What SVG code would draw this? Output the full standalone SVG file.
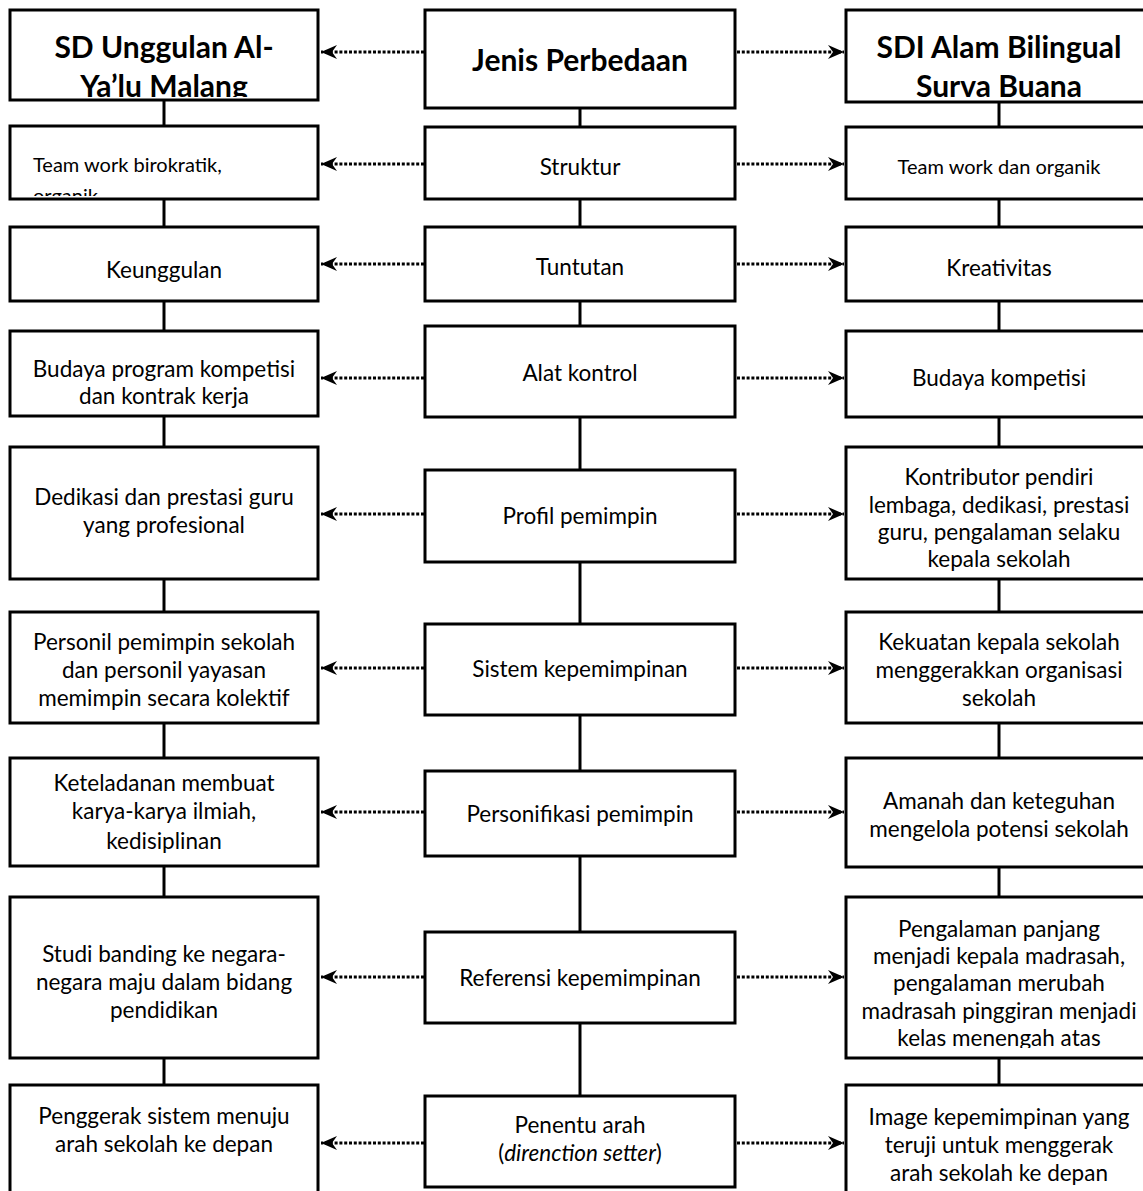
<svg xmlns="http://www.w3.org/2000/svg" width="1143" height="1191" viewBox="0 0 1143 1191">
<style>
.box{fill:#fff;stroke:#000;stroke-width:3}
.t{font-family:Lato,"Open Sans",sans-serif;font-size:22.5px;fill:#000;text-anchor:middle}
.s{font-size:20px}
.h{font-family:Lato,"Open Sans",sans-serif;font-size:30px;font-weight:bold;fill:#000;text-anchor:middle}
.v{stroke:#000;stroke-width:3;fill:none}
.d{stroke:#000;stroke-width:3;stroke-dasharray:3 1.8;fill:none}
</style>
<defs>
<marker id="ah" viewBox="0 0 16 14" refX="16" refY="7" markerWidth="16" markerHeight="14" markerUnits="userSpaceOnUse" orient="auto">
<path d="M0,0 L16,7 L0,14 L5,7 Z" fill="#000"/>
</marker>
<clipPath id="c0l"><rect x="10" y="10" width="308" height="87"/></clipPath>
<clipPath id="c0r"><rect x="846" y="10" width="310" height="89"/></clipPath>
<clipPath id="c1l"><rect x="10" y="126" width="308" height="70"/></clipPath>
<clipPath id="c4r"><rect x="846" y="447" width="310" height="124"/></clipPath>
<clipPath id="c7r"><rect x="846" y="897" width="310" height="151"/></clipPath>
</defs>

<g id="connectors">
<line class="v" x1="164" y1="100" x2="164" y2="126"/>
<line class="v" x1="164" y1="199" x2="164" y2="227"/>
<line class="v" x1="164" y1="301" x2="164" y2="331"/>
<line class="v" x1="164" y1="416" x2="164" y2="447"/>
<line class="v" x1="164" y1="579" x2="164" y2="612"/>
<line class="v" x1="164" y1="723" x2="164" y2="758"/>
<line class="v" x1="164" y1="866" x2="164" y2="897"/>
<line class="v" x1="164" y1="1058" x2="164" y2="1085"/>
<line class="v" x1="580" y1="108" x2="580" y2="127"/>
<line class="v" x1="580" y1="199" x2="580" y2="227"/>
<line class="v" x1="580" y1="301" x2="580" y2="326"/>
<line class="v" x1="580" y1="417" x2="580" y2="470"/>
<line class="v" x1="580" y1="562" x2="580" y2="624"/>
<line class="v" x1="580" y1="715" x2="580" y2="771"/>
<line class="v" x1="580" y1="856" x2="580" y2="932"/>
<line class="v" x1="580" y1="1023" x2="580" y2="1096"/>
<line class="v" x1="999" y1="102" x2="999" y2="127"/>
<line class="v" x1="999" y1="199" x2="999" y2="227"/>
<line class="v" x1="999" y1="301" x2="999" y2="331"/>
<line class="v" x1="999" y1="417" x2="999" y2="447"/>
<line class="v" x1="999" y1="579" x2="999" y2="612"/>
<line class="v" x1="999" y1="723" x2="999" y2="758"/>
<line class="v" x1="999" y1="867" x2="999" y2="897"/>
<line class="v" x1="999" y1="1058" x2="999" y2="1085"/>

<line class="d" x1="424" y1="52" x2="321" y2="52" marker-end="url(#ah)"/>
<line class="d" x1="737" y1="52" x2="844" y2="52" marker-end="url(#ah)"/>
<line class="d" x1="424" y1="164" x2="321" y2="164" marker-end="url(#ah)"/>
<line class="d" x1="737" y1="164" x2="844" y2="164" marker-end="url(#ah)"/>
<line class="d" x1="424" y1="264" x2="321" y2="264" marker-end="url(#ah)"/>
<line class="d" x1="737" y1="264" x2="844" y2="264" marker-end="url(#ah)"/>
<line class="d" x1="424" y1="378" x2="321" y2="378" marker-end="url(#ah)"/>
<line class="d" x1="737" y1="378" x2="844" y2="378" marker-end="url(#ah)"/>
<line class="d" x1="424" y1="514" x2="321" y2="514" marker-end="url(#ah)"/>
<line class="d" x1="737" y1="514" x2="844" y2="514" marker-end="url(#ah)"/>
<line class="d" x1="424" y1="668" x2="321" y2="668" marker-end="url(#ah)"/>
<line class="d" x1="737" y1="668" x2="844" y2="668" marker-end="url(#ah)"/>
<line class="d" x1="424" y1="812" x2="321" y2="812" marker-end="url(#ah)"/>
<line class="d" x1="737" y1="812" x2="844" y2="812" marker-end="url(#ah)"/>
<line class="d" x1="424" y1="977" x2="321" y2="977" marker-end="url(#ah)"/>
<line class="d" x1="737" y1="977" x2="844" y2="977" marker-end="url(#ah)"/>
<line class="d" x1="424" y1="1143" x2="321" y2="1143" marker-end="url(#ah)"/>
<line class="d" x1="737" y1="1143" x2="844" y2="1143" marker-end="url(#ah)"/>
</g>

<g id="h-left"><rect class="box" x="10" y="10" width="308" height="90"/>
<g clip-path="url(#c0l)"><text class="h" x="164" y="58">SD Unggulan Al-</text><text class="h" x="164" y="97">Ya’lu Malang</text></g></g>
<g id="h-center"><rect class="box" x="425" y="10" width="310" height="98"/>
<text class="h" x="580" y="71">Jenis Perbedaan</text></g>
<g id="h-right"><rect class="box" x="846" y="10" width="310" height="92"/>
<g clip-path="url(#c0r)"><text class="h" x="999" y="58">SDI Alam Bilingual</text><text class="h" x="999" y="97">Surva Buana</text></g></g>

<g id="r1-left"><rect class="box" x="10" y="126" width="308" height="73"/>
<g clip-path="url(#c1l)"><text class="t s" x="33" y="172" style="text-anchor:start">Team work birokratik,</text><text class="t s" x="33" y="203" style="text-anchor:start">organik</text></g></g>
<g id="r1-center"><rect class="box" x="425" y="127" width="310" height="72"/>
<text class="t" x="580" y="175">Struktur</text></g>
<g id="r1-right"><rect class="box" x="846" y="127" width="310" height="72"/>
<text class="t s" x="999" y="174">Team work dan organik</text></g>

<g id="r2-left"><rect class="box" x="10" y="227" width="308" height="74"/>
<text class="t" x="164" y="278">Keunggulan</text></g>
<g id="r2-center"><rect class="box" x="425" y="227" width="310" height="74"/>
<text class="t" x="580" y="275">Tuntutan</text></g>
<g id="r2-right"><rect class="box" x="846" y="227" width="310" height="74"/>
<text class="t" x="999" y="276">Kreativitas</text></g>

<g id="r3-left"><rect class="box" x="10" y="331" width="308" height="85"/>
<text class="t" x="164" y="377">Budaya program kompetisi</text><text class="t" x="164" y="404">dan kontrak kerja</text></g>
<g id="r3-center"><rect class="box" x="425" y="326" width="310" height="91"/>
<text class="t" x="580" y="381">Alat kontrol</text></g>
<g id="r3-right"><rect class="box" x="846" y="331" width="310" height="86"/>
<text class="t" x="999" y="386">Budaya kompetisi</text></g>

<g id="r4-left"><rect class="box" x="10" y="447" width="308" height="132"/>
<text class="t" x="164" y="505">Dedikasi dan prestasi guru</text><text class="t" x="164" y="533">yang profesional</text></g>
<g id="r4-center"><rect class="box" x="425" y="470" width="310" height="92"/>
<text class="t" x="580" y="524">Profil pemimpin</text></g>
<g id="r4-right"><rect class="box" x="846" y="447" width="310" height="132"/>
<g clip-path="url(#c4r)"><text class="t" x="999" y="485">Kontributor pendiri</text><text class="t" x="999" y="513">lembaga, dedikasi, prestasi</text><text class="t" x="999" y="540">guru, pengalaman selaku</text><text class="t" x="999" y="567">kepala sekolah</text></g></g>

<g id="r5-left"><rect class="box" x="10" y="612" width="308" height="111"/>
<text class="t" x="164" y="650">Personil pemimpin sekolah</text><text class="t" x="164" y="678">dan personil yayasan</text><text class="t" x="164" y="706">memimpin secara kolektif</text></g>
<g id="r5-center"><rect class="box" x="425" y="624" width="310" height="91"/>
<text class="t" x="580" y="677">Sistem kepemimpinan</text></g>
<g id="r5-right"><rect class="box" x="846" y="612" width="310" height="111"/>
<text class="t" x="999" y="650">Kekuatan kepala sekolah</text><text class="t" x="999" y="678">menggerakkan organisasi</text><text class="t" x="999" y="706">sekolah</text></g>

<g id="r6-left"><rect class="box" x="10" y="758" width="308" height="108"/>
<text class="t" x="164" y="791">Keteladanan membuat</text><text class="t" x="164" y="819">karya-karya ilmiah,</text><text class="t" x="164" y="849">kedisiplinan</text></g>
<g id="r6-center"><rect class="box" x="425" y="771" width="310" height="85"/>
<text class="t" x="580" y="822">Personifikasi pemimpin</text></g>
<g id="r6-right"><rect class="box" x="846" y="758" width="310" height="109"/>
<text class="t" x="999" y="809">Amanah dan keteguhan</text><text class="t" x="999" y="837">mengelola potensi sekolah</text></g>

<g id="r7-left"><rect class="box" x="10" y="897" width="308" height="161"/>
<text class="t" x="164" y="962">Studi banding ke negara-</text><text class="t" x="164" y="990">negara maju dalam bidang</text><text class="t" x="164" y="1018">pendidikan</text></g>
<g id="r7-center"><rect class="box" x="425" y="932" width="310" height="91"/>
<text class="t" x="580" y="986">Referensi kepemimpinan</text></g>
<g id="r7-right"><rect class="box" x="846" y="897" width="310" height="161"/>
<g clip-path="url(#c7r)"><text class="t" x="999" y="937">Pengalaman panjang</text><text class="t" x="999" y="964">menjadi kepala madrasah,</text><text class="t" x="999" y="991">pengalaman merubah</text><text class="t" x="999" y="1019">madrasah pinggiran menjadi</text><text class="t" x="999" y="1046">kelas menengah atas</text></g></g>

<g id="r8-left"><rect class="box" x="10" y="1085" width="308" height="120"/>
<text class="t" x="164" y="1124">Penggerak sistem menuju</text><text class="t" x="164" y="1152">arah sekolah ke depan</text></g>
<g id="r8-center"><rect class="box" x="425" y="1096" width="310" height="91"/>
<text class="t" x="580" y="1133">Penentu arah</text><text class="t" x="580" y="1161">(<tspan font-style="italic">direnction setter</tspan>)</text></g>
<g id="r8-right"><rect class="box" x="846" y="1085" width="310" height="120"/>
<text class="t" x="999" y="1125">Image kepemimpinan yang</text><text class="t" x="999" y="1153">teruji untuk menggerak</text><text class="t" x="999" y="1181">arah sekolah ke depan</text></g>
</svg>
